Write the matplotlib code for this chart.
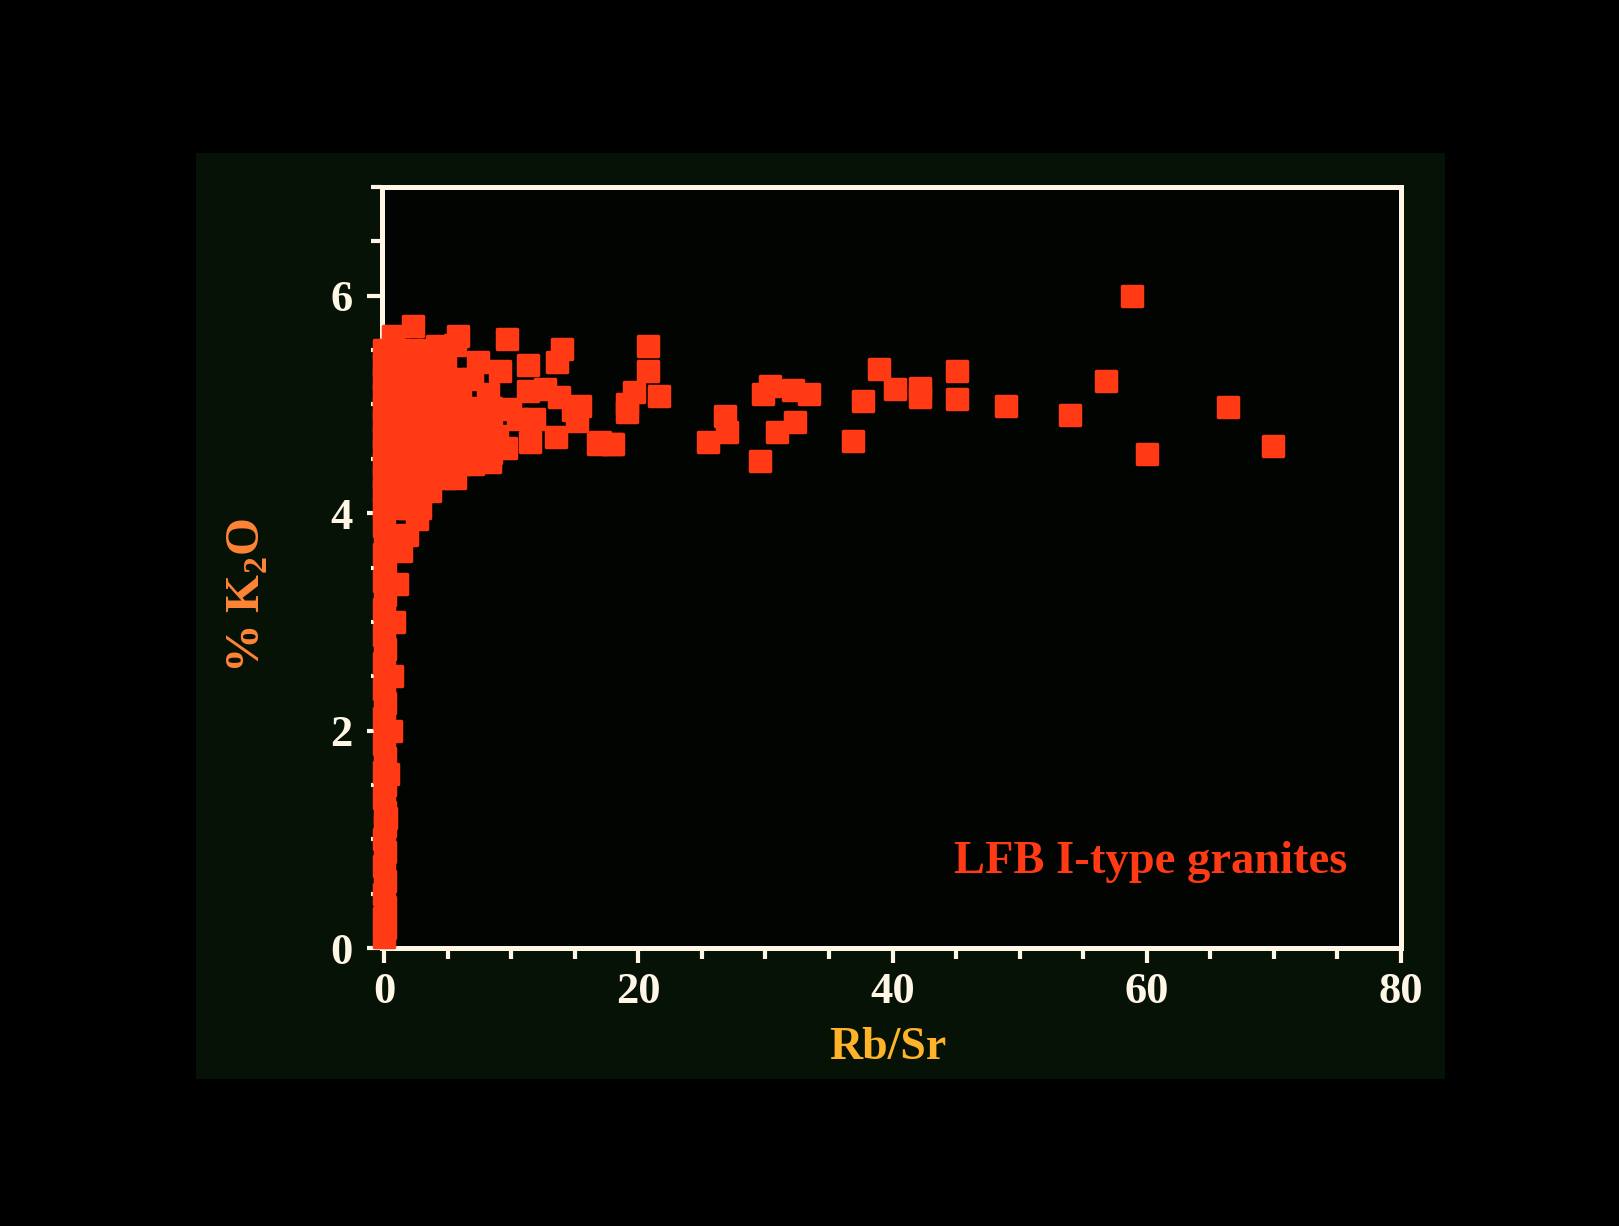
import numpy as np
import matplotlib
matplotlib.use("Agg")
import matplotlib.pyplot as plt
from matplotlib.patches import Rectangle
from matplotlib.ticker import MultipleLocator

plt.rcParams['font.family'] = ['Liberation Serif', 'DejaVu Serif']
plt.rcParams['font.weight'] = 'bold'
plt.rcParams['mathtext.fontset'] = 'custom'
plt.rcParams['mathtext.rm'] = 'Liberation Serif:bold'
plt.rcParams['mathtext.bf'] = 'Liberation Serif:bold'

# --- data: Rb/Sr vs % K2O, LFB I-type granites ---
# narrow stem near Rb/Sr = 0
stem_x = [0.0, 0.05, 0.0, 0.1, 0.0, 0.05, 0.0, 0.1, 0.0, 0.05, 0.1, 0.0, 0.05, 0.0, 0.1, 0.0,
          0.05, 0.0, 0.1, 0.0, 0.05, 0.0, 0.1, 0.0, 0.05, 0.0, 0.1, 0.0, 0.05, 0.0, 0.1, 0.0]
stem_y = [0.1, 0.18, 0.28, 0.38, 0.5, 0.62, 0.75, 0.88, 1.0, 1.12, 1.25, 1.38, 1.5, 1.62, 1.75, 1.88,
          2.0, 2.12, 2.25, 2.38, 2.5, 2.62, 2.75, 2.88, 3.0, 3.12, 3.25, 3.38, 3.5, 3.62, 3.75, 3.88]
edge_x = [0.15, 0.35, 0.55, 0.65, 0.8, 1.0, 1.3, 1.8, 2.6]
edge_y = [1.2, 1.6, 2.0, 2.5, 3.0, 3.35, 3.65, 3.8, 3.95]

# dense cluster, row by row
c_x = [0, 1.0, 2.0, 2.8,
       0, 1.0, 2.0, 3.0, 3.6,
       0, 1.2, 2.4, 3.6, 4.8, 5.6,
       0, 1.2, 2.4, 3.6, 4.8, 6.0, 7.0, 8.3,
       0, 1.2, 2.4, 3.6, 4.8, 6.0, 7.2, 8.4, 9.6,
       0, 1.2, 2.4, 3.6, 4.8, 6.0, 7.2, 8.9, 11.5, 13.5,
       0, 1.2, 2.4, 3.6, 4.8, 6.0, 7.2, 8.4, 10.5, 11.8, 15.2,
       0, 1.2, 2.4, 3.6, 4.8, 6.0, 7.2, 8.4, 9.9, 14.9,
       0, 1.2, 2.4, 3.6, 4.8, 6.0, 8.2, 11.3, 12.7, 13.8,
       0, 1.2, 2.4, 3.6, 4.8, 6.0, 6.9,
       0, 1.2, 2.4, 3.6, 4.8, 7.4, 9.1, 11.3, 13.6,
       0, 1.2, 2.2, 3.4, 4.2, 5.6, 14.0,
       0.7, 2.3, 5.8, 9.7]
c_y = [4.05, 4.05, 4.05, 4.05,
       4.2, 4.2, 4.2, 4.2, 4.2,
       4.32, 4.32, 4.32, 4.32, 4.32, 4.32,
       4.45, 4.45, 4.45, 4.45, 4.45, 4.45, 4.45, 4.47,
       4.58, 4.58, 4.58, 4.58, 4.58, 4.58, 4.58, 4.55, 4.6,
       4.7, 4.7, 4.7, 4.7, 4.7, 4.7, 4.7, 4.71, 4.65, 4.7,
       4.84, 4.84, 4.84, 4.84, 4.84, 4.84, 4.84, 4.84, 4.87, 4.87, 4.85,
       4.97, 4.97, 4.97, 4.97, 4.97, 4.97, 4.97, 4.97, 4.96, 4.95,
       5.1, 5.1, 5.1, 5.1, 5.1, 5.1, 5.1, 5.12, 5.14, 5.07,
       5.23, 5.23, 5.23, 5.23, 5.23, 5.23, 5.23,
       5.36, 5.36, 5.36, 5.36, 5.36, 5.39, 5.31, 5.36, 5.39,
       5.5, 5.5, 5.5, 5.5, 5.54, 5.55, 5.51,
       5.63, 5.72, 5.63, 5.6]

# scattered points at higher Rb/Sr
s_x = [15.4, 16.8, 18.0, 19.1, 19.1, 19.7, 20.8, 20.8, 21.6, 17.0, 17.9,
       25.5, 26.8, 27.0, 29.6, 29.8, 30.4, 30.9, 32.2, 32.3, 33.4,
       36.9, 37.7, 38.9, 40.2, 42.2, 42.2, 45.1, 45.1, 48.9, 54.0,
       56.8, 58.8, 60.0, 66.4, 69.9]
s_y = [4.99, 4.64, 4.64, 5.0, 4.93, 5.11, 5.54, 5.31, 5.08, 4.65, 4.64,
       4.65, 4.89, 4.75, 4.48, 5.1, 5.17, 4.75, 5.13, 4.84, 5.1,
       4.66, 5.03, 5.33, 5.14, 5.15, 5.07, 5.31, 5.05, 4.99, 4.9,
       5.22, 6.0, 4.54, 4.98, 4.62]

rb_sr = stem_x + edge_x + c_x + s_x
k2o = stem_y + edge_y + c_y + s_y

red = '#ff3a14'
cream = '#fff6e6'

fig = plt.figure(figsize=(16.19, 12.26), dpi=100, facecolor='black')
# slide area behind the axes
slide = Rectangle((196 / 1619, 1 - 1079 / 1226), (1445 - 196) / 1619, (1079 - 153) / 1226,
                  transform=fig.transFigure, facecolor='#071207', edgecolor='none', zorder=-10)
fig.add_artist(slide)

ax = fig.add_axes([381.5 / 1619, 1 - 948 / 1226, (1401 - 381.5) / 1619, (948 - 187) / 1226])
ax.set_zorder(1)
ax.set_facecolor('#010401')

# markers sit on top of the left spine, as on the slide
sc = ax.scatter(rb_sr, k2o, marker='s', s=220, c=red, edgecolors=red, linewidths=2.5,
                clip_on=False, zorder=4)
sc.set_joinstyle('round')

ax.set_xlim(-0.2, 80)
ax.set_ylim(0, 7)
ax.xaxis.set_major_locator(MultipleLocator(20))
ax.xaxis.set_minor_locator(MultipleLocator(5))
ax.yaxis.set_major_locator(MultipleLocator(2))
ax.yaxis.set_minor_locator(MultipleLocator(0.5))

for sp in ax.spines.values():
    sp.set_color(cream)
    sp.set_linewidth(3.6)
    sp.set_zorder(3)

ax.tick_params(which='both', direction='out', colors=cream, width=3, top=False, right=False)
ax.tick_params(which='major', length=11, labelsize=32, pad=10)
ax.tick_params(which='minor', length=8)
ax.tick_params(axis='x', which='major', pad=6)
for lab in ax.get_xticklabels() + ax.get_yticklabels():
    lab.set_fontweight('bold')

fig.text(888 / 1619, 1 - 1048 / 1226, 'Rb/Sr', color='#ffb428', fontsize=33,
         fontweight='bold', ha='center', va='center')
fig.text(248 / 1619, 1 - 596 / 1226, r'% K$_{2}$O', color='#ff8436', fontsize=35,
         fontweight='bold', ha='center', va='center', rotation=90)

ax.text(75.8, 0.79, 'LFB I-type granites', color=red, fontsize=33.5, fontweight='bold',
        ha='right', va='center')

fig.savefig('out.png', dpi=100, facecolor='black')
